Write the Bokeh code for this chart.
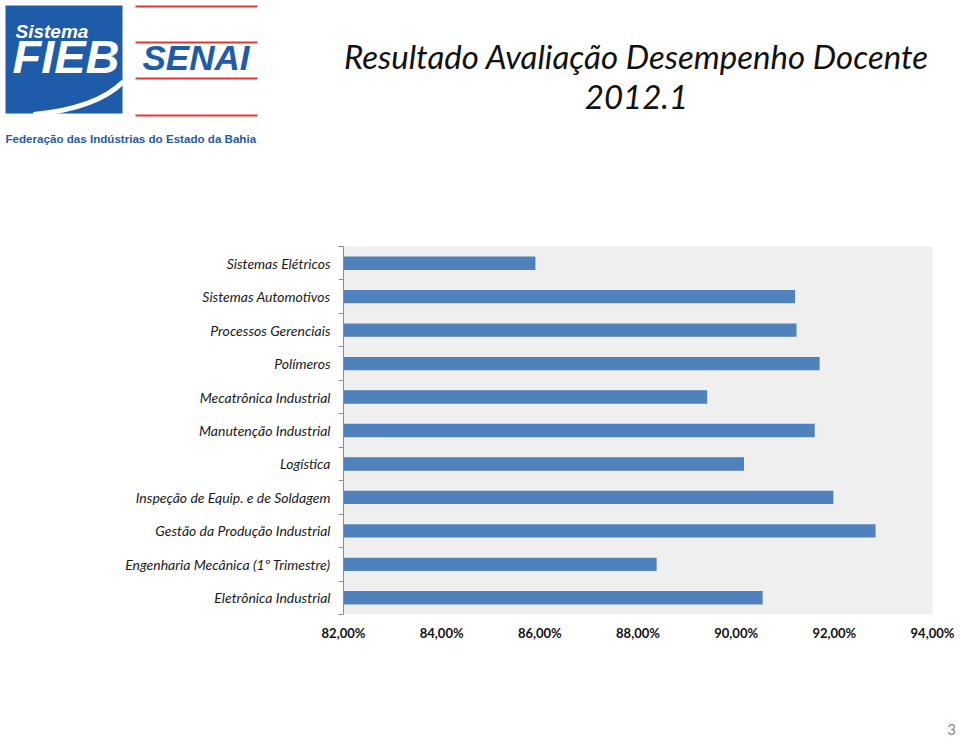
from bokeh.plotting import figure
from bokeh.models import Range1d, FixedTicker
from bokeh.core.properties import value
from bokeh.embed import file_html
from bokeh.resources import INLINE

# ---------------- data ----------------
categories = [
    "Sistemas Elétricos",
    "Sistemas Automotivos",
    "Processos Gerenciais",
    "Polímeros",
    "Mecatrônica Industrial",
    "Manutenção Industrial",
    "Logística",
    "Inspeção de Equip. e de Soldagem",
    "Gestão da Produção Industrial",
    "Engenharia Mecânica (1º Trimestre)",
    "Eletrônica Industrial",
]
values = [85.91, 91.20, 91.23, 91.70, 89.41, 91.60, 90.16, 91.98, 92.84, 88.38, 90.54]
x_ticks = [82, 84, 86, 88, 90, 92, 94]
x_tick_labels = ["82,00%", "84,00%", "86,00%", "88,00%", "90,00%", "92,00%", "94,00%"]
title_lines = ["Resultado Avaliação Desempenho Docente", "2012.1"]
page_number = "3"

FIEB_BLUE = "#1E5BA8"
RED = "#E0382E"
BAR = "#4F81BD"
LABEL_FONT = "Lato"
W = 960


def bare(fig):
    fig.axis.visible = False
    fig.grid.visible = False
    fig.outline_line_color = None
    fig.background_fill_color = "white"
    fig.border_fill_color = "white"


# ---------------- header (logo + title) ----------------
HH = 238
h = figure(width=W, height=HH, x_range=Range1d(0, W), y_range=Range1d(HH, 0),
           output_backend="svg", toolbar_location=None, min_border=0)
bare(h)

h.quad(left=[5], right=[122], top=[5], bottom=[113], fill_color=FIEB_BLUE, line_color=None)
h.quadratic(x0=[33], y0=[114], x1=[123], y1=[81], cx=[96], cy=[108],
            line_color="white", line_width=5)
h.text(x=[15], y=[41], text=["Sistema"], text_font=value("Liberation Sans"),
       text_font_style="bold italic", text_font_size="19px", text_color="white")
h.text(x=[12], y=[82], text=["FIEB"], text_font=value("Liberation Sans"),
       text_font_style="bold italic", text_font_size="47px", text_color="white")
h.segment(x0=[135] * 4, x1=[257] * 4, y0=[6, 42, 78, 115], y1=[6, 42, 78, 115],
          line_color=RED, line_width=2)
h.text(x=[142], y=[76], text=["SENAI"], text_font=value("Liberation Sans"),
       text_font_style="bold italic", text_font_size="35px", text_color=FIEB_BLUE)
h.text(x=[5], y=[144], text=["Federação das Indústrias do Estado da Bahia"],
       text_font=value("Liberation Sans"), text_font_style="bold",
       text_font_size="11.6px", text_color=FIEB_BLUE)

h.text(x=[636, 636], y=[55, 96], text=title_lines, text_align="center",
       text_baseline="alphabetic", text_font=value(LABEL_FONT),
       text_font_style="italic", text_font_size="33px", text_color="#111111")

# ---------------- chart ----------------
n = len(categories)
ypos = [n - i - 0.5 for i in range(n)]

p = figure(width=W, height=412, x_range=Range1d(82, 94), y_range=Range1d(0, n),
           output_backend="svg", toolbar_location=None,
           min_border_left=343, min_border_right=28, min_border_top=8, min_border_bottom=36)
p.background_fill_color = "#EFEFEF"
p.border_fill_color = "white"
p.outline_line_color = None
p.grid.visible = False

p.hbar(y=ypos, left=82, right=values, height=0.4, fill_color=BAR, line_color=None)

ya = p.yaxis[0]
ya.ticker = FixedTicker(ticks=ypos, minor_ticks=list(range(0, n + 1)))
ya.major_label_overrides = {y: c for y, c in zip(ypos, categories)}
ya.major_tick_line_color = None
ya.major_tick_out = 0
ya.major_tick_in = 0
ya.minor_tick_out = 5
ya.minor_tick_in = 0
ya.minor_tick_line_color = "#8C8C8C"
ya.axis_line_color = "#8C8C8C"
ya.major_label_standoff = 8
ya.major_label_text_font = LABEL_FONT
ya.major_label_text_font_style = "italic"
ya.major_label_text_font_size = "14px"
ya.major_label_text_color = "#1a1a1a"

xa = p.xaxis[0]
xa.ticker = FixedTicker(ticks=x_ticks, minor_ticks=[])
xa.major_label_overrides = {t: l for t, l in zip(x_ticks, x_tick_labels)}
xa.axis_line_color = None
xa.major_tick_line_color = None
xa.minor_tick_line_color = None
xa.major_tick_out = 0
xa.major_tick_in = 0
xa.major_label_standoff = 10
xa.major_label_text_font = LABEL_FONT
xa.major_label_text_font_style = "bold"
xa.major_label_text_font_size = "13px"
xa.major_label_text_color = "#111111"

# ---------------- footer (page number) ----------------
FH = 739 - 238 - 412
f = figure(width=W, height=FH, x_range=Range1d(0, W), y_range=Range1d(739, 739 - FH),
           output_backend="svg", toolbar_location=None, min_border=0)
bare(f)
f.text(x=[951], y=[734], text=[page_number], text_align="center",
       text_baseline="bottom", text_font=value(LABEL_FONT),
       text_font_size="15px", text_color="#8C8C8C")

open("out.html", "w").write(file_html([h, p, f], INLINE))
